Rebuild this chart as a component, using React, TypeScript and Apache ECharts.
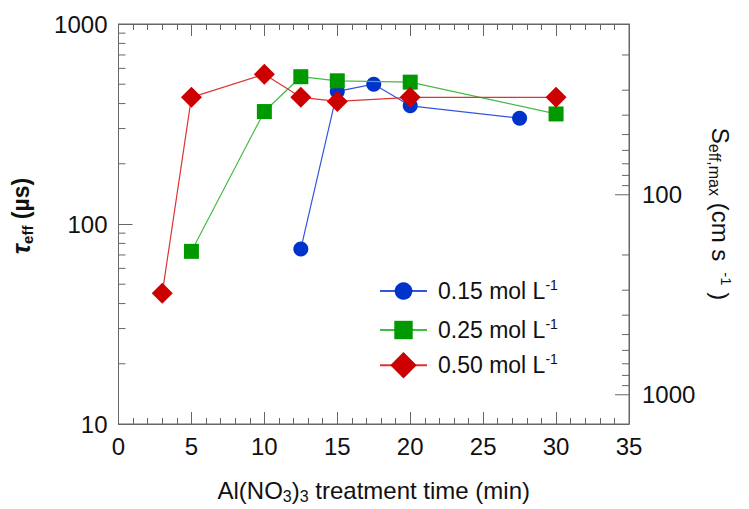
import React, { useEffect, useRef } from "react";
import * as echarts from "echarts";

// treatment time (min)
const x015 = [12.5, 15, 17.5, 20, 27.5];
const y015 = [75, 460, 500, 390, 338];
const x025 = [5, 10, 12.5, 15, 20, 30];
const y025 = [73, 365, 545, 520, 512, 355];
const x050 = [3, 5, 10, 12.5, 15, 20, 30];
const y050 = [45, 430, 560, 430, 410, 430, 430];

const seriesNames = ["0.15 mol L", "0.25 mol L", "0.50 mol L"];
const xTickLabels = [0, 5, 10, 15, 20, 25, 30, 35];
const tauTicks = [10, 100, 1000];
const tauMinorTicks = [20, 30, 40, 50, 60, 70, 80, 90, 200, 300, 400, 500, 600, 700, 800, 900];
const sTicks = [100, 1000];
const sMinorTicks = [20, 30, 40, 50, 60, 70, 80, 90, 200, 300, 400, 500, 600, 700, 800, 900];
// S_eff,max = W / (2 tau), W = 280 um -> S range for tau 1000..10 us
const sMin = 14;
const sMax = 1400;

const pair = (xs: number[], ys: number[]) => xs.map((x, i) => [x, ys[i]]);

const FONT = "Liberation Sans, Arial, sans-serif";
const AXIS = "#666";
const TXT = "#111";

export default function App() {
  const ref = useRef<HTMLDivElement>(null);
  useEffect(() => {
    document.body.style.margin = "0";
    const chart = echarts.init(ref.current!, null, { renderer: "svg" });
    const isPow10 = (v: number) => Math.abs(Math.log10(v) - Math.round(Math.log10(v))) < 1e-6;
    const tickRender = (side: number) => (params: any, api: any) => {
      const v = api.value(1);
      const p = api.coord([api.value(0), v]);
      const len = isPow10(v) ? 14 : 7;
      return {
        type: "line",
        shape: { x1: p[0], y1: p[1], x2: p[0] + side * len, y2: p[1] },
        style: { stroke: AXIS, lineWidth: 1 },
      };
    };
    const xAxisCommon = {
      type: "value",
      min: 0,
      max: 35,
      interval: 5,
      axisLine: { show: true, onZero: false, lineStyle: { color: AXIS, width: 1 } },
      axisTick: { show: true, inside: true, length: 12, lineStyle: { color: AXIS } },
      minorTick: { show: true, splitNumber: 5, length: 6, lineStyle: { color: AXIS } },
      splitLine: { show: false },
      minorSplitLine: { show: false },
    };
    const legendRich = {
      t: { fontSize: 23, lineHeight: 26, padding: [0, 0, 0, 6], fontFamily: FONT, color: TXT },
      s: { fontSize: 14, verticalAlign: "top", lineHeight: 14, fontFamily: FONT, color: TXT },
    };
    const mkLegend = (name: string, top: number, itemHeight: number) => ({
      data: [name],
      orient: "vertical",
      left: 379,
      top,
      padding: 0,
      itemWidth: 47,
      itemHeight,
      formatter: (n: string) => `{t|${n}}{s|-1}`,
      textStyle: { fontFamily: FONT, color: TXT, rich: legendRich },
    });
    chart.setOption({
      animation: false,
      backgroundColor: "#fff",
      textStyle: { fontFamily: FONT },
      grid: { left: 118, right: 120, top: 24, bottom: 79, show: true, borderColor: AXIS, borderWidth: 1, backgroundColor: "transparent" },
      legend: [
        mkLegend(seriesNames[0], 278, 22),
        mkLegend(seriesNames[1], 317, 23),
        mkLegend(seriesNames[2], 352, 33),
      ],
      xAxis: [
        {
          ...xAxisCommon,
          position: "bottom",
          axisLabel: {
            fontSize: 24,
            color: TXT,
            margin: 10,
            fontFamily: FONT,
            formatter: (v: number) => (xTickLabels.includes(v) ? String(v) : ""),
          },
          name: "{n|Al(NO}{b|3}{n|)}{b|3}{n| treatment time (min)}",
          nameLocation: "middle",
          nameGap: 52,
          nameTextStyle: {
            fontFamily: FONT,
            rich: {
              n: { fontSize: 24, color: TXT, fontFamily: FONT, lineHeight: 28 },
              b: { fontSize: 16, color: TXT, fontFamily: FONT, verticalAlign: "bottom", lineHeight: 16 },
            },
          },
        },
        { ...xAxisCommon, position: "top", axisLabel: { show: false } },
      ],
      yAxis: [
        {
          type: "log",
          logBase: 10,
          min: 10,
          max: 1000,
          position: "left",
          axisLine: { show: true, onZero: false, lineStyle: { color: AXIS, width: 1 } },
          axisTick: { show: true, inside: true, length: 14, lineStyle: { color: AXIS } },
          splitLine: { show: false },
          axisLabel: {
            fontSize: 24,
            color: TXT,
            margin: 11,
            fontFamily: FONT,
            formatter: (v: number) => {
              const r = tauTicks.find((t) => Math.abs(t - v) / t < 1e-6);
              return r ? String(r) : "";
            },
          },
          name: "{t|τ}{b|eff}{n| (µs)}",
          nameLocation: "middle",
          nameRotate: 90,
          nameGap: 84,
          nameTextStyle: {
            fontFamily: FONT,
            padding: [0, 0, 0, 16],
            rich: {
              t: { fontSize: 25, fontWeight: "bold", fontStyle: "italic", color: TXT, fontFamily: FONT, lineHeight: 28 },
              b: { fontSize: 15, fontWeight: "bold", color: TXT, fontFamily: FONT, verticalAlign: "bottom", lineHeight: 15 },
              n: { fontSize: 23, fontWeight: "bold", color: TXT, fontFamily: FONT, lineHeight: 28 },
            },
          },
        },
        {
          type: "log",
          logBase: 10,
          min: sMin,
          max: sMax,
          inverse: true,
          position: "right",
          axisLine: { show: true, onZero: false, lineStyle: { color: AXIS, width: 1 } },
          axisTick: { show: false },
          splitLine: { show: false },
          axisLabel: {
            fontSize: 24,
            color: TXT,
            margin: 13,
            fontFamily: FONT,
            formatter: (v: number) => {
              const r = sTicks.find((t) => Math.abs(t - v) / t < 1e-6);
              return r ? String(r) : "";
            },
          },
          name: "{n|S}{b|eff,max}{n| (cm s }{s| -1}{n| )}",
          nameLocation: "middle",
          nameRotate: -90,
          nameGap: 72,
          nameTextStyle: {
            fontFamily: FONT,
            padding: [0, 20, 0, 0],
            rich: {
              n: { fontSize: 24, color: TXT, fontFamily: FONT, lineHeight: 28 },
              b: { fontSize: 16, color: TXT, fontFamily: FONT, verticalAlign: "bottom", lineHeight: 16 },
              s: { fontSize: 15, color: TXT, fontFamily: FONT, verticalAlign: "top", lineHeight: 15 },
            },
          },
        },
      ],
      series: [
        {
          name: seriesNames[0],
          type: "line",
          data: pair(x015, y015),
          symbol: "circle",
          symbolSize: 15,
          lineStyle: { color: "#3355dd", width: 1.2 },
          itemStyle: { color: "#0033cc" },
          z: 3,
        },
        {
          name: seriesNames[1],
          type: "line",
          data: pair(x025, y025),
          symbol: "rect",
          symbolSize: 15,
          lineStyle: { color: "#44bb44", width: 1.2 },
          itemStyle: { color: "#009900" },
          z: 4,
        },
        {
          name: seriesNames[2],
          type: "line",
          data: pair(x050, y050),
          symbol: "diamond",
          symbolSize: 21,
          lineStyle: { color: "#dd3333", width: 1.2 },
          itemStyle: { color: "#cc0000" },
          z: 5,
        },
        {
          type: "custom",
          name: "tauMinor",
          xAxisIndex: 0,
          yAxisIndex: 0,
          clip: false,
          silent: true,
          renderItem: tickRender(1),
          data: tauMinorTicks.map((v) => [0, v]),
        },
        {
          type: "custom",
          name: "sTicks",
          xAxisIndex: 0,
          yAxisIndex: 1,
          clip: false,
          silent: true,
          renderItem: tickRender(-1),
          data: [...sTicks, ...sMinorTicks].map((v) => [35, v]),
        },
      ],
    });
    return () => chart.dispose();
  }, []);
  return <div ref={ref} style={{ width: 749, height: 509 }} />;
}
